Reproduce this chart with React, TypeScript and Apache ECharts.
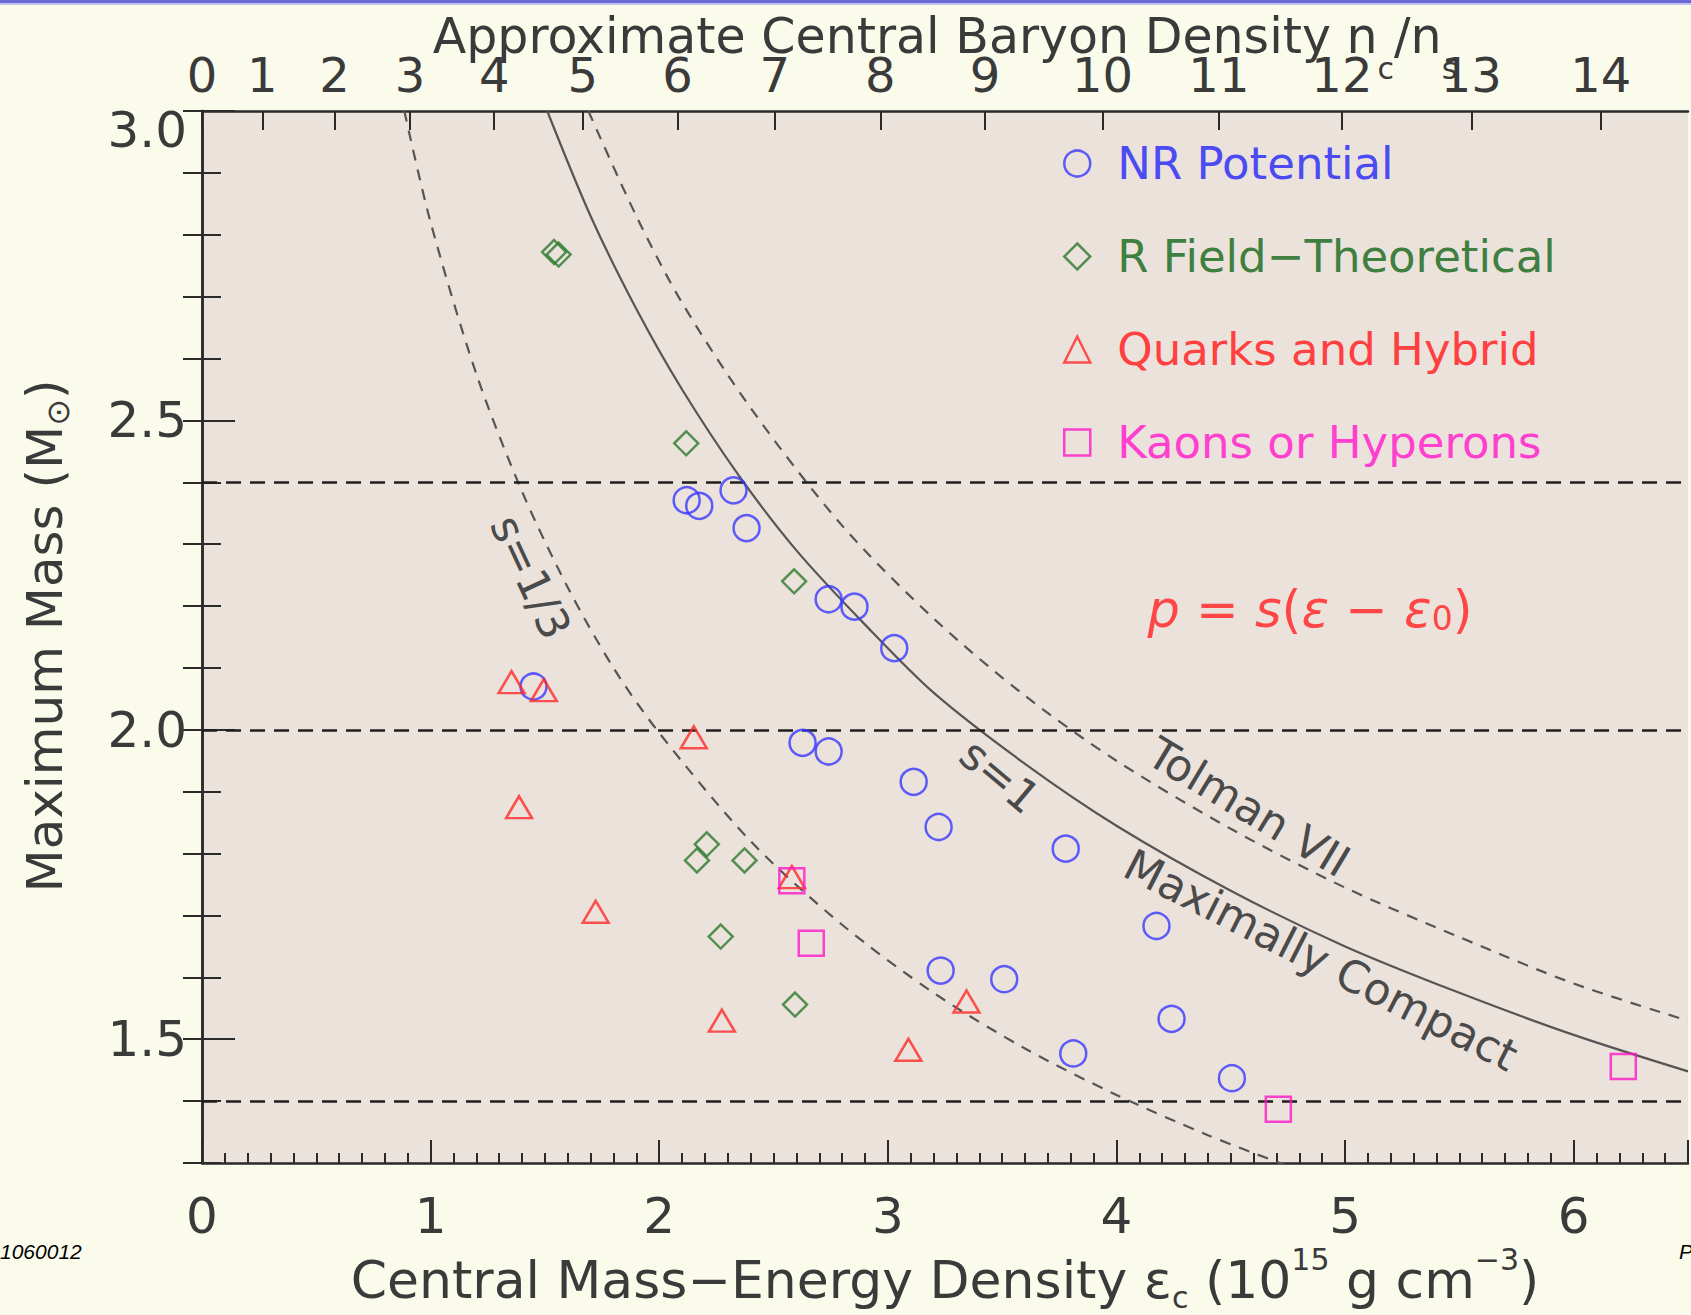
import React, { useEffect, useRef } from "react";
import * as echarts from "echarts";

// ---------- data ----------
// central mass-energy density (1e15 g/cm3), maximum mass (Msun)
const nrPotential: [number, number][] = [
  [1.45, 2.07], [2.12, 2.371], [2.175, 2.362], [2.325, 2.387], [2.382, 2.326],
  [2.741, 2.211], [2.854, 2.199], [3.028, 2.132], [2.627, 1.979], [2.741, 1.965],
  [3.113, 1.916], [3.222, 1.843], [3.778, 1.808], [4.175, 1.683], [3.231, 1.611],
  [3.509, 1.597], [4.241, 1.533], [3.811, 1.477], [4.505, 1.437],
];
const rFieldTheoretical: [number, number][] = [
  [1.54, 2.772], [1.56, 2.768], [2.118, 2.463], [2.59, 2.24], [2.208, 1.815],
  [2.165, 1.789], [2.373, 1.789], [2.269, 1.666], [2.594, 1.556],
];
const quarksHybrid: [number, number][] = [
  [1.354, 2.077], [1.495, 2.064], [2.151, 1.988], [1.387, 1.875], [1.722, 1.706],
  [2.58, 1.762], [2.274, 1.53], [3.344, 1.561], [3.09, 1.483],
];
const kaonsHyperons: [number, number][] = [
  [2.58, 1.756], [2.665, 1.655], [4.708, 1.387], [6.217, 1.456],
];

// curves
const maxCompactEps = [1.51, 1.7, 1.9, 2.1, 2.35, 2.6, 2.9, 3.2, 3.6, 4.0, 4.5, 5.0, 5.5, 6.0, 6.5];
const maxCompactMass = [3.0, 2.83, 2.68, 2.55, 2.41, 2.29, 2.17, 2.06, 1.945, 1.845, 1.74, 1.65, 1.575, 1.507, 1.448];
const tolmanEps = [1.69, 1.9, 2.1, 2.4, 2.8, 3.2, 3.6, 4.0, 4.5, 5.0, 5.5, 6.0, 6.5];
const tolmanMass = [3.0, 2.83, 2.69, 2.52, 2.33, 2.18, 2.055, 1.95, 1.84, 1.745, 1.665, 1.59, 1.53];
const sThirdEps = [0.885, 1.0, 1.2, 1.4, 1.6, 1.8, 2.0, 2.4, 2.8, 3.2, 3.6, 4.0, 4.4, 4.75];
const sThirdMass = [3.0, 2.82, 2.575, 2.385, 2.23, 2.1, 1.995, 1.82, 1.685, 1.575, 1.485, 1.41, 1.345, 1.295];

// horizontal reference masses
const refMasses = [2.4, 2.0, 1.4];

// top axis: baryon density labels and their energy-density positions
const topTickLabels = ["0", "1", "2", "3", "4", "5", "6", "7", "8", "9", "10", "11", "12", "13", "14"];
const topTickEps = [0, 0.264, 0.58, 0.91, 1.278, 1.665, 2.08, 2.505, 2.967, 3.425, 3.939, 4.448, 4.986, 5.552, 6.118];

const yMajor = [1.5, 2.0, 2.5, 3.0];

const FONT = "'DejaVu Sans', sans-serif";
const AXIS_COLOR = "#2a2a2a";
const TEXT_COLOR = "#3a3a3a";
const CURVE_COLOR = "#555555";
const LABEL_SIZE = 50;

const zip = (a: number[], b: number[]) => a.map((v, i) => [v, b[i]]);

export default function App() {
  const ref = useRef<HTMLDivElement>(null);
  useEffect(() => {
    document.body.style.margin = "0";
    const chart = echarts.init(ref.current!, null, { renderer: "svg" });

    const markerBase = (color: string) => ({
      color: "rgba(0,0,0,0)",
      borderColor: color,
      borderWidth: 2.5,
    });

    const option: any = {
      animation: false,
      backgroundColor: "#fbfbec",
      grid: {
        left: 202, right: 3, top: 111, bottom: 152,
        show: true, backgroundColor: "#ece2dc", borderWidth: 0,
      },
      xAxis: [
        {
          type: "value", position: "bottom", min: 0, max: 6.5, interval: 0.1,
          axisLine: { show: true, lineStyle: { color: AXIS_COLOR, width: 2.5 } },
          axisTick: { show: true, inside: true, length: 10, lineStyle: { color: AXIS_COLOR, width: 2 } },
          splitLine: { show: false },
          axisLabel: {
            show: true, margin: 28, fontSize: LABEL_SIZE, fontFamily: FONT, color: TEXT_COLOR,
            formatter: (v: number) => (Math.abs(v - Math.round(v)) < 1e-6 ? String(Math.round(v)) : ""),
          },
        },
        {
          type: "value", position: "bottom", min: 0, max: 6.5, interval: 1,
          axisLine: { show: false },
          axisTick: { show: true, inside: true, length: 23, lineStyle: { color: AXIS_COLOR, width: 2 } },
          splitLine: { show: false }, axisLabel: { show: false },
        },
        {
          type: "value", position: "top", min: 0, max: 6.5,
          axisLine: { show: true, lineStyle: { color: AXIS_COLOR, width: 2.5 } },
          axisTick: { show: true, inside: true, length: 19, customValues: topTickEps, lineStyle: { color: AXIS_COLOR, width: 2 } },
          splitLine: { show: false },
          axisLabel: {
            show: true, margin: 12, fontSize: 48, fontFamily: FONT, color: TEXT_COLOR,
            customValues: topTickEps,
            formatter: (v: number) => {
              const i = topTickEps.findIndex((e) => Math.abs(e - v) < 1e-6);
              return i >= 0 ? topTickLabels[i] : "";
            },
          },
        },
      ],
      yAxis: [
        {
          type: "value", position: "left", min: 1.3, max: 3.0, interval: 0.1,
          axisLine: { show: true, lineStyle: { color: AXIS_COLOR, width: 2.5 } },
          axisTick: { show: true, inside: true, length: 19, lineStyle: { color: AXIS_COLOR, width: 2 } },
          splitLine: { show: false },
          axisLabel: {
            show: true, margin: 15, fontSize: LABEL_SIZE, fontFamily: FONT, color: TEXT_COLOR,
            formatter: (v: number) => {
              if (Math.abs(v * 2 - Math.round(v * 2)) > 1e-6) return "";
              return Math.abs(v - 3) < 1e-6 ? "{t|" + v.toFixed(1) + "}" : v.toFixed(1);
            },
            rich: {
              t: { fontSize: LABEL_SIZE, fontFamily: FONT, color: TEXT_COLOR, padding: [38, 0, 0, 0] },
            },
          },
        },
        {
          type: "value", position: "left", min: 1.3, max: 3.0,
          axisLine: { show: false },
          axisTick: { show: true, inside: true, length: 33, customValues: yMajor, lineStyle: { color: AXIS_COLOR, width: 2 } },
          splitLine: { show: false }, axisLabel: { show: false },
        },
        {
          type: "value", position: "right", min: 1.3, max: 3.0, interval: 0.1,
          axisLine: { show: true, lineStyle: { color: AXIS_COLOR, width: 2.5 } },
          axisTick: { show: true, inside: true, length: 19, lineStyle: { color: AXIS_COLOR, width: 2 } },
          splitLine: { show: false }, axisLabel: { show: false },
        },
      ],
      legend: {
        orient: "vertical", left: 1058, top: 136,
        itemWidth: 26, itemHeight: 26, itemGap: 48,
        textStyle: { fontSize: 45, lineHeight: 45, fontFamily: FONT, padding: [0, 0, 0, 22] },
        data: [
          { name: "NR Potential", icon: "circle", itemStyle: markerBase("#3a3aff"), textStyle: { color: "#4b4bf2" } },
          { name: "R Field−Theoretical", icon: "diamond", itemStyle: markerBase("#2e7a2e"), textStyle: { color: "#3f7f3f" } },
          { name: "Quarks and Hybrid", icon: "triangle", itemStyle: markerBase("#ff2a2a"), textStyle: { color: "#ff4040" } },
          { name: "Kaons or Hyperons", icon: "rect", itemStyle: markerBase("#ff18c8"), textStyle: { color: "#ff3fcf" } },
        ],
      },
      series: [
        {
          name: "s=1/3", type: "line", data: zip(sThirdEps, sThirdMass), showSymbol: false, smooth: 0.3,
          lineStyle: { color: CURVE_COLOR, width: 2.2, type: [11, 9] }, silent: true, z: 2,
          markLine: {
            silent: true, symbol: ["none", "none"], label: { show: false },
            lineStyle: { color: "#1e1e1e", width: 2.6, type: [15, 9] },
            data: refMasses.map((m) => ({ yAxis: m })),
          },
        },
        {
          name: "Maximally Compact", type: "line", data: zip(maxCompactEps, maxCompactMass), showSymbol: false, smooth: 0.3,
          lineStyle: { color: CURVE_COLOR, width: 2.2 }, silent: true, z: 2,
        },
        {
          name: "Tolman VII", type: "line", data: zip(tolmanEps, tolmanMass), showSymbol: false, smooth: 0.3,
          lineStyle: { color: CURVE_COLOR, width: 2.2, type: [11, 9] }, silent: true, z: 2,
        },
        {
          name: "NR Potential", type: "scatter", data: nrPotential, symbol: "circle", symbolSize: 26,
          itemStyle: markerBase("#3a3aff"), z: 5,
        },
        {
          name: "R Field−Theoretical", type: "scatter", data: rFieldTheoretical, symbol: "diamond", symbolSize: 24,
          itemStyle: markerBase("#2e7a2e"), z: 5,
        },
        {
          name: "Quarks and Hybrid", type: "scatter", data: quarksHybrid, symbol: "triangle", symbolSize: [26, 22],
          itemStyle: markerBase("#ff2a2a"), z: 5,
        },
        {
          name: "Kaons or Hyperons", type: "scatter", data: kaonsHyperons, symbol: "rect", symbolSize: 25,
          itemStyle: markerBase("#ff18c8"), z: 5,
        },
      ],
      graphic: [
        { type: "rect", left: 0, top: 0, shape: { width: 1691, height: 3 }, style: { fill: "#6a6ad4" }, silent: true },
        { type: "rect", left: 0, top: 3, shape: { width: 1691, height: 2 }, style: { fill: "#c0c0f0" }, silent: true },
        {
          type: "text", x: 945, y: 36, silent: true,
          style: {
            text: "{m|Approximate Central Baryon Density n}{sub|c}{m|/n}{sub|s}",
            align: "center", verticalAlign: "middle", fill: TEXT_COLOR,
            rich: {
              m: { fontSize: 49, lineHeight: 49, fontFamily: FONT, fill: TEXT_COLOR, verticalAlign: "top" },
              sub: { fontSize: 30, lineHeight: 30, fontFamily: FONT, fill: TEXT_COLOR, verticalAlign: "top", padding: [42, 0, 0, 0] },
            },
          },
        },
        {
          type: "text", x: 945, y: 1270, silent: true,
          style: {
            text: "{m|Central Mass−Energy Density ε}{sub|c}{m| (10}{sup|15}{m| g cm}{sup|−3}{m|)}",
            align: "center", verticalAlign: "middle", fill: TEXT_COLOR,
            rich: {
              m: { fontSize: 52, lineHeight: 52, fontFamily: FONT, fill: TEXT_COLOR, verticalAlign: "top", padding: [10, 0, 0, 0] },
              sup: { fontSize: 30, lineHeight: 30, fontFamily: FONT, fill: TEXT_COLOR, verticalAlign: "top" },
              sub: { fontSize: 30, lineHeight: 30, fontFamily: FONT, fill: TEXT_COLOR, verticalAlign: "top", padding: [38, 0, 0, 0] },
            },
          },
        },
        {
          type: "text", x: 45, y: 636, rotation: Math.PI / 2, silent: true,
          style: {
            text: "{m|Maximum Mass (M}{sub|⊙}{m|)}",
            align: "center", verticalAlign: "middle", fill: TEXT_COLOR,
            rich: {
              m: { fontSize: 50, lineHeight: 50, fontFamily: FONT, fill: TEXT_COLOR, verticalAlign: "top" },
              sub: { fontSize: 32, lineHeight: 32, fontFamily: FONT, fill: TEXT_COLOR, verticalAlign: "top", padding: [22, 0, 0, 0] },
            },
          },
        },
        {
          type: "text", x: 531, y: 577, rotation: (-65 * Math.PI) / 180, silent: true,
          style: { text: "s=1/3", fontSize: 44, fontFamily: FONT, fill: "#4a4a4a", align: "center", verticalAlign: "middle" },
        },
        {
          type: "text", x: 1000, y: 776, rotation: (-40 * Math.PI) / 180, silent: true,
          style: { text: "s=1", fontSize: 44, fontFamily: FONT, fill: "#4a4a4a", align: "center", verticalAlign: "middle" },
        },
        {
          type: "text", x: 1249, y: 807, rotation: (-31 * Math.PI) / 180, silent: true,
          style: { text: "Tolman VII", fontSize: 44, fontFamily: FONT, fill: "#4a4a4a", align: "center", verticalAlign: "middle" },
        },
        {
          type: "text", x: 1321, y: 960, rotation: (-27 * Math.PI) / 180, silent: true,
          style: { text: "Maximally Compact", fontSize: 44, fontFamily: FONT, fill: "#4a4a4a", align: "center", verticalAlign: "middle" },
        },
        {
          type: "text", x: 1310, y: 609, silent: true,
          style: {
            text: "{i|p} = {i|s}({i|ε} − {i|ε}{sub|0})",
            align: "center", verticalAlign: "middle", fill: "#ff4646",
            fontSize: 51, fontFamily: FONT,
            rich: {
              i: { fontSize: 51, fontStyle: "italic", fontFamily: FONT, fill: "#ff4646" },
              sub: { fontSize: 33, fontFamily: FONT, fill: "#ff4646", verticalAlign: "bottom" },
            },
          },
        },
        {
          type: "text", x: 0, y: 1251, silent: true,
          style: { text: "1060012", fontSize: 21, fontStyle: "italic", fontFamily: "'Liberation Sans', Arial, sans-serif", fill: "#000", align: "left", verticalAlign: "middle" },
        },
        {
          type: "text", x: 1679, y: 1251, silent: true,
          style: { text: "P", fontSize: 21, fontStyle: "italic", fontFamily: "'Liberation Sans', Arial, sans-serif", fill: "#000", align: "left", verticalAlign: "middle" },
        },
      ],
    };
    chart.setOption(option);
    return () => chart.dispose();
  }, []);
  return <div ref={ref} style={{ width: 1691, height: 1315 }} />;
}
